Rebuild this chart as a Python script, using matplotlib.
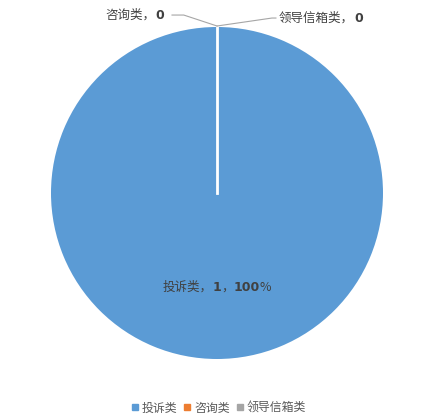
import matplotlib
matplotlib.use('Agg')
import matplotlib.pyplot as plt
from matplotlib.lines import Line2D
import numpy as np

plt.rcParams['font.family'] = ['Noto Sans CJK SC', 'DejaVu Sans']

# data
categories = ['投诉类', '咨询类', '领导信箱类']
values = [1, 0, 0]
colors = ['#5B9BD5', '#ED7D31', '#A5A5A5']
text_color = '#404040'

fig = plt.figure(figsize=(4.34, 4.19), dpi=100)
ax = fig.add_axes([51 / 434, 60 / 419, 332 / 434, 332 / 419])

wedges, _ = ax.pie(values, colors=colors, startangle=90, counterclock=False,
                   radius=1, wedgeprops=dict(linewidth=0))
ax.set_xlim(-1, 1)
ax.set_ylim(-1, 1)
ax.set_aspect('auto')
ax.axis('off')

# slice boundary (pie is one full slice, draw the edge at the start angle)
ang = np.deg2rad(90)
ax.plot([0, np.cos(ang)], [0, np.sin(ang)], color='white', lw=2, zorder=3)


def mixed_label(x, y, parts):
    """parts: list of (text, bold) drawn one after another on one baseline"""
    prev = None
    for txt, bold in parts:
        kw = dict(fontsize=9, color=text_color, va='baseline', ha='left',
                  annotation_clip=False)
        if bold:
            kw['fontweight'] = 'bold'
            kw['family'] = ['DejaVu Sans']
        if prev is None:
            a = ax.annotate(txt, xy=(x, y), xycoords='data', **kw)
        else:
            a = ax.annotate(txt, xy=(1, y), xycoords=(prev, 'data'), **kw)
        prev = a


# inside label for the full slice
total = sum(values)
pct = int(round(values[0] / total * 100))
mixed_label(-0.33, -0.59, [(categories[0] + '，', False), (str(values[0]), True),
                           ('，', False), (str(pct), True), ('%', False)])

# outside labels for zero slices
mixed_label(-0.675, 1.05, [(categories[1] + '，', False), (str(values[1]), True)])
mixed_label(0.373, 1.032, [(categories[2] + '，', False), (str(values[2]), True)])

leader = '#A6A6A6'
ax.plot([-0.271, -0.2, 0], [1.072, 1.072, 1.006], color=leader, lw=0.8, clip_on=False)
ax.plot([0, 0.331, 0.355], [1.006, 1.054, 1.054], color=leader, lw=0.8, clip_on=False)

handles = [Line2D([0], [0], marker='s', linestyle='', markersize=4.5,
                  markerfacecolor=c, markeredgecolor=c) for c in colors]
fig.legend(handles, categories, loc='center', bbox_to_anchor=(0.504, 1 - 408 / 419),
           ncol=3, frameon=False, fontsize=8.6, handlelength=0.6, handletextpad=0.3,
           columnspacing=0.5, labelcolor='#595959')

fig.savefig('out.png', dpi=100)
